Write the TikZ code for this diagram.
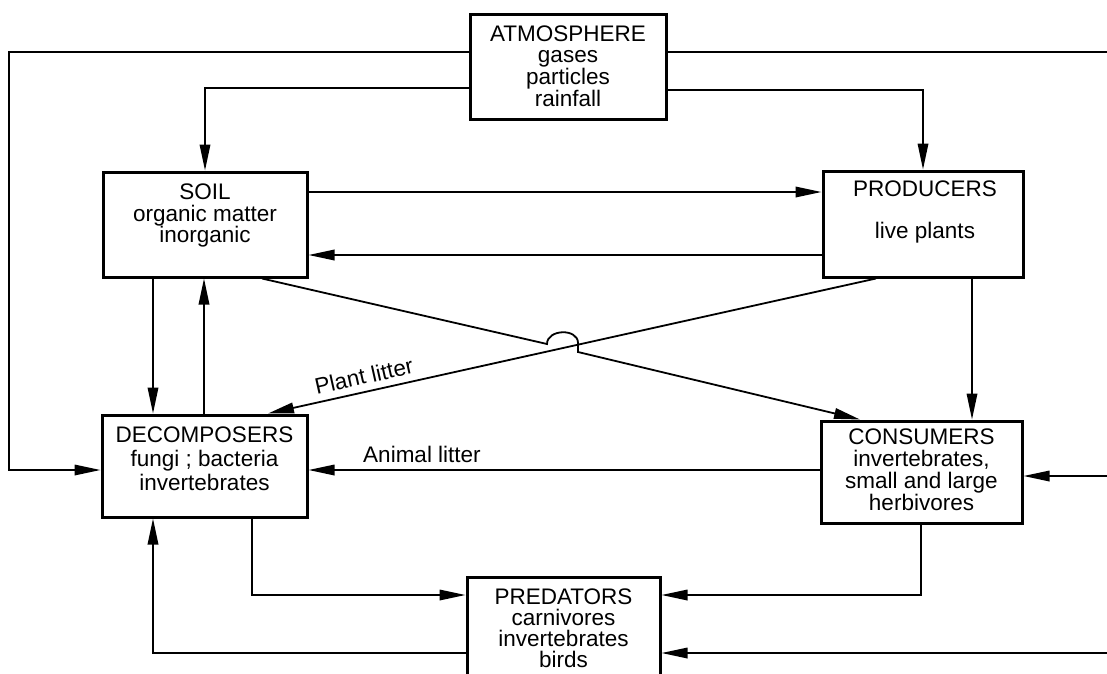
\documentclass[tikz,border=0pt]{standalone}
\usepackage{fontspec}
\setmainfont{Liberation Sans}
\usetikzlibrary{arrows.meta}
\begin{document}
\begin{tikzpicture}[x=1pt,y=-1pt,
  box/.style={draw, line width=3pt, inner sep=0pt},
  txt/.style={align=center, inner sep=0pt},
  conn/.style={line width=1.8pt, -{Triangle[length=26pt,width=10.5pt]}},
  plainline/.style={line width=1.8pt}]
\clip (0,0) rectangle (1107,673);
% boxes
\node[box, minimum width=196pt, minimum height=105pt] (atm) at (568,66.5) {};
\node[box, minimum width=204pt, minimum height=105pt] (soil) at (205,224.5) {};
\node[box, minimum width=200pt, minimum height=106pt] (prod) at (923,224) {};
\node[box, minimum width=205pt, minimum height=102pt] (dec) at (204.5,466) {};
\node[box, minimum width=201pt, minimum height=102pt] (cons) at (921.5,472) {};
\node[box, minimum width=193pt, minimum height=123pt] (pred) at (563.5,638.5) {};
% texts
\node[txt, anchor=north, font=\fontsize{22.5}{20.5}\selectfont] (atmtxt) at (568,26) {ATMOSPHERE\\gases\\particles\\rainfall};
\node[txt, anchor=north, font=\fontsize{22.5}{21.5}\selectfont] (soiltxt) at (205,184) {SOIL\\organic matter\\inorganic};
\node[txt, anchor=north, font=\fontsize{22.5}{21.5}\selectfont] (prodtxt) at (925,181) {PRODUCERS\\[20pt]live plants};
\node[txt, anchor=north, font=\fontsize{22.5}{24}\selectfont] (dectxt) at (204.5,427) {DECOMPOSERS\\fungi ; bacteria\\invertebrates};
\node[txt, anchor=north, font=\fontsize{22.5}{22}\selectfont] (constxt) at (921.5,429) {CONSUMERS\\invertebrates,\\small and large\\herbivores};
\node[txt, anchor=north, font=\fontsize{22.5}{20.7}\selectfont] (predtxt) at (563.5,589) {PREDATORS\\carnivores\\invertebrates\\birds};
% free ends
\coordinate (lcorner) at (9,470);
\coordinate (redge1) at (1107,52);
\coordinate (redge2) at (1107,476);
\coordinate (redge3) at (1107,653);
\coordinate (hopa) at (547,344);
\coordinate (hopb) at (578,343);
% connectors
\draw[conn] (atm.west |- 0,52) -| (lcorner) -- (dec.west |- lcorner);
\draw[conn] (atm.west |- 0,88) -| (soil.north);
\draw[plainline] (atm.east |- redge1) -- (redge1);
\draw[conn] (atm.east |- 0,90) -| (prod.north);
\draw[conn] (soil.east |- 0,192) -- (prod.west |- 0,192);
\draw[conn] (prod.west |- 0,255) -- (soil.east |- 0,255);
\draw[conn] (soil.south -| 153,0) -- (dec.north -| 153,0);
\draw[conn] (dec.north -| 204,0) -- (soil.south -| 204,0);
\draw[conn] (soil.south -| 262,0) -- (hopa) .. controls (547,329) and (578,328) .. (hopb) -- ++(0,9) -- (cons.north -| 860,0);
\draw[conn] (prod.south -| 876,0) -- (dec.north -| 268,0);
\node[font=\fontsize{22.5}{22}\selectfont, rotate=12.7, inner sep=0pt] (plantlbl) at (364,376) {Plant litter};
\draw[conn] (prod.south -| 972,0) -- (cons.north -| 972,0);
\draw[conn] (cons.west |- 0,470) -- (dec.east |- 0,470);
\node[font=\fontsize{22.5}{22}\selectfont, anchor=base, inner sep=0pt] (animallbl) at (422,462) {Animal litter};
\draw[conn] (redge2) -- (cons.east |- redge2);
\draw[conn] (dec.south -| 252,0) |- (pred.west |- 0,595);
\draw[conn] (pred.west |- redge3) -| (dec.south -| 153,0);
\draw[conn] (cons.south -| 921,0) |- (pred.east |- 0,595);
\draw[conn] (redge3) -- (pred.east |- redge3);
\end{tikzpicture}
\end{document}
